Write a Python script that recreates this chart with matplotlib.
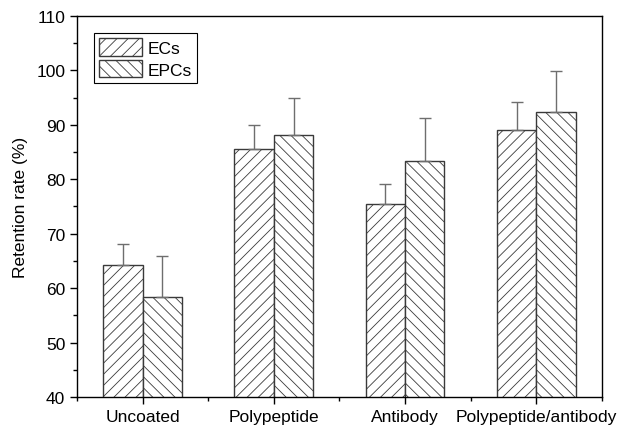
import numpy as np
import matplotlib as mpl
import matplotlib.pyplot as plt
from matplotlib.ticker import MultipleLocator

mpl.rcParams.update({
    "font.family": ["Liberation Sans", "DejaVu Sans"],
    "font.size": 12.5,
    "hatch.linewidth": 0.6,
    "axes.linewidth": 1.0,
})

# retention data: mean and upper SD per coating
categories = ["Uncoated", "Polypeptide", "Antibody", "Polypeptide/antibody"]
ecs_mean = [64.3, 85.5, 75.5, 89.1]
ecs_err = [3.8, 4.5, 3.6, 5.1]
epcs_mean = [58.3, 88.2, 83.3, 92.4]
epcs_err = [7.6, 6.8, 8.0, 7.4]

fig = plt.figure(figsize=(6.28, 4.31), dpi=100)
ax = fig.add_axes([0.1226, 0.0766, 0.836, 0.884])

x = np.arange(1, len(categories) + 1)
w = 0.3
edge = "#3a3a3a"
errkw = dict(ecolor="#6e6e6e", elinewidth=1.0, capsize=4, capthick=1.0)

ax.bar(x - w / 2, ecs_mean, w, yerr=[np.zeros(4), ecs_err], color="white",
       edgecolor=edge, linewidth=1.0, hatch="///", label="ECs", error_kw=errkw)
ax.bar(x + w / 2, epcs_mean, w, yerr=[np.zeros(4), epcs_err], color="white",
       edgecolor=edge, linewidth=1.0, hatch="\\\\\\", label="EPCs", error_kw=errkw)

ax.set_xlim(0.5, 4.5)
ax.set_ylim(40, 110)
ax.set_xticks(x)
ax.set_xticklabels(categories)
ax.xaxis.set_minor_locator(MultipleLocator(0.5))
ax.yaxis.set_major_locator(MultipleLocator(10))
ax.yaxis.set_minor_locator(MultipleLocator(5))
ax.tick_params(which="major", direction="out", length=5, width=1.0)
ax.tick_params(which="minor", direction="out", length=3, width=1.0)
ax.set_ylabel("Retention rate (%)", labelpad=6)

leg = ax.legend(loc="upper left", bbox_to_anchor=(0.032, 0.955), fancybox=False,
                framealpha=1, edgecolor="black", handlelength=2.5,
                handleheight=1.15, borderpad=0.3, labelspacing=0.25,
                handletextpad=0.3, borderaxespad=0, fontsize=12.5)
leg.get_frame().set_linewidth(0.8)

fig.savefig("out.png", dpi=100)
